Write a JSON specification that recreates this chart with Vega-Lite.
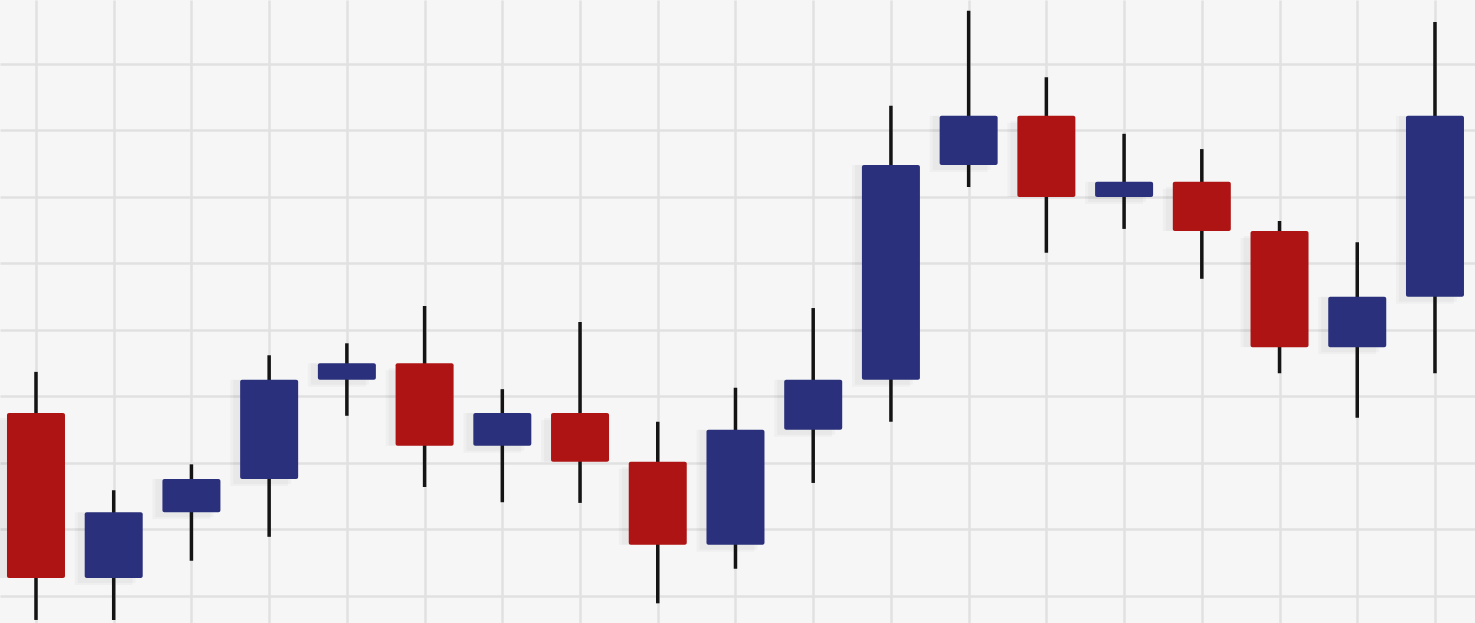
{
  "$schema": "https://vega.github.io/schema/vega-lite/v6.json",
  "width": 1475,
  "height": 623,
  "autosize": "none",
  "padding": 0,
  "background": "#f6f6f6",
  "config": {
    "view": {"stroke": null, "fill": "#f6f6f6"},
    "axis": {"labels": false, "ticks": false, "domain": false, "title": null, "grid": true, "gridColor": "#e1e1e1", "gridWidth": 2.5}
  },
  "data": {
    "values": [
      {"i": 1, "open": 2.75, "close": 0.27, "high": 3.37, "low": -0.36},
      {"i": 2, "open": 0.27, "close": 1.26, "high": 1.59, "low": -0.36},
      {"i": 3, "open": 1.26, "close": 1.76, "high": 1.98, "low": 0.53},
      {"i": 4, "open": 1.76, "close": 3.25, "high": 3.62, "low": 0.89},
      {"i": 5, "open": 3.25, "close": 3.5, "high": 3.8, "low": 2.71},
      {"i": 6, "open": 3.5, "close": 2.26, "high": 4.36, "low": 1.64},
      {"i": 7, "open": 2.26, "close": 2.75, "high": 3.11, "low": 1.41},
      {"i": 8, "open": 2.75, "close": 2.02, "high": 4.12, "low": 1.4},
      {"i": 9, "open": 2.02, "close": 0.77, "high": 2.62, "low": -0.11},
      {"i": 10, "open": 0.77, "close": 2.5, "high": 3.13, "low": 0.41},
      {"i": 11, "open": 2.5, "close": 3.25, "high": 4.33, "low": 1.7},
      {"i": 12, "open": 3.25, "close": 6.48, "high": 7.37, "low": 2.62},
      {"i": 13, "open": 6.48, "close": 7.22, "high": 8.8, "low": 6.15},
      {"i": 14, "open": 7.22, "close": 6.0, "high": 7.8, "low": 5.16},
      {"i": 15, "open": 6.0, "close": 6.23, "high": 6.95, "low": 5.52},
      {"i": 16, "open": 6.23, "close": 5.49, "high": 6.72, "low": 4.77},
      {"i": 17, "open": 5.49, "close": 3.74, "high": 5.64, "low": 3.35},
      {"i": 18, "open": 3.74, "close": 4.5, "high": 5.32, "low": 2.68},
      {"i": 19, "open": 4.5, "close": 7.22, "high": 8.63, "low": 3.35}
    ]
  },
  "encoding": {
    "x": {
      "field": "i", "type": "quantitative",
      "scale": {"domain": [0.537, 19.515], "nice": false, "zero": false, "padding": 0},
      "axis": {"values": [1,2,3,4,5,6,7,8,9,10,11,12,13,14,15,16,17,18,19]}
    }
  },
  "layer": [
    {
      "mark": {"type": "bar", "width": 58, "color": "#000000", "opacity": 0.025, "stroke": "#000000", "strokeWidth": 34, "strokeOpacity": 0.02, "strokeJoin": "round", "xOffset": -10, "yOffset": 7},
      "encoding": {
        "y": {"field": "open", "type": "quantitative",
          "scale": {"domain": [-0.406, 8.962], "nice": false, "zero": false},
          "axis": {"values": [0,1,2,3,4,5,6,7,8]}},
        "y2": {"field": "close"}
      }
    },
    {
      "mark": {"type": "bar", "width": 58, "color": "#000000", "opacity": 0.025, "stroke": "#000000", "strokeWidth": 18, "strokeOpacity": 0.025, "strokeJoin": "round", "xOffset": -7, "yOffset": 5},
      "encoding": {
        "y": {"field": "open", "type": "quantitative"},
        "y2": {"field": "close"}
      }
    },
    {
      "mark": {"type": "rule", "color": "#141414", "strokeWidth": 3.5},
      "encoding": {
        "y": {"field": "low", "type": "quantitative"},
        "y2": {"field": "high"}
      }
    },
    {
      "mark": {"type": "bar", "width": 58, "cornerRadius": 2},
      "encoding": {
        "y": {"field": "open", "type": "quantitative"},
        "y2": {"field": "close"},
        "color": {
          "condition": {"test": "datum.close > datum.open", "value": "#2b307c"},
          "value": "#ae1414"
        }
      }
    }
  ]
}
